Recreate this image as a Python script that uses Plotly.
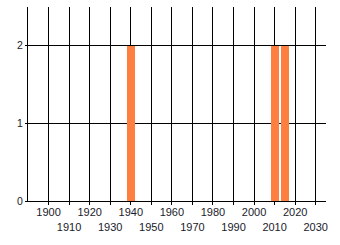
import plotly.graph_objects as go

years = [1940, 2010, 2015]
counts = [2, 2, 2]
tick_years = list(range(1900, 2031, 10))
tick_labels = [str(y) if (y // 10) % 2 == 0 else "<br>" + str(y) for y in tick_years]
y_ticks = [0, 1, 2]

fig = go.Figure()
fig.add_trace(go.Bar(x=years, y=counts, width=4, marker=dict(color="#FF7F40", line=dict(width=0))))

fig.update_layout(
    width=340, height=245,
    margin=dict(l=28, r=14, t=7, b=44),
    paper_bgcolor="white", plot_bgcolor="white",
    showlegend=False,
    font=dict(family="Liberation Sans", size=10.5, color="#1a1a2a"),
    bargap=0,
)
fig.update_xaxes(
    range=[1890, 2035], tickvals=tick_years, ticktext=tick_labels,
    tickangle=0, tickfont=dict(size=11), ticklabelstandoff=-2,
    showgrid=True, gridcolor="black", gridwidth=1,
    showline=True, linecolor="black", linewidth=1,
    ticks="outside", ticklen=3, tickcolor="black",
    zeroline=False,
)
fig.update_yaxes(
    range=[0, 2.5], tickvals=y_ticks,
    showgrid=True, gridcolor="black", gridwidth=1,
    showline=True, linecolor="black", linewidth=1,
    ticks="outside", ticklen=2, tickcolor="black",
    zeroline=False,
)
fig.write_html("out.html")
